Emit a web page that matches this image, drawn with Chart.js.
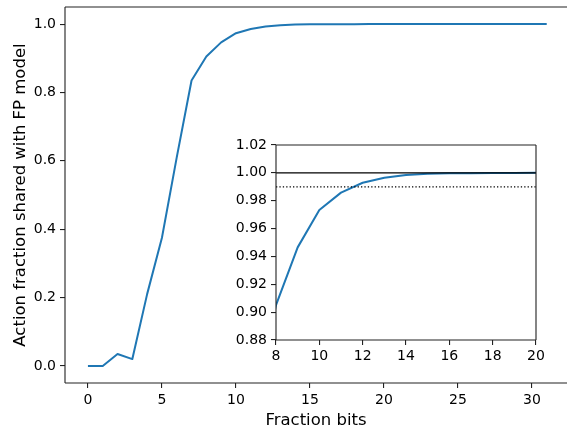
<!DOCTYPE html>
<html><head><meta charset="utf-8">
<script src="https://cdn.jsdelivr.net/npm/chart.js@4.4.0/dist/chart.umd.min.js"></script>
<style>
html,body{margin:0;padding:0;background:#fff;overflow:hidden;}
#wrap{position:relative;width:567px;height:429px;background:#fff;}
#main{position:absolute;left:0;top:0;}
#inset{position:absolute;left:230px;top:130px;}
</style></head><body>
<div id="wrap"><canvas id="main" width="567" height="429"></canvas><canvas id="inset" width="320" height="235"></canvas></div>
<script>
// ---- data ----
const fractionBits = [0,1,2,3,4,5,6,7,8,9,10,11,12,13,14,15,16,17,18,19,20,21,22,23,24,25,26,27,28,29,30,31];
const actionFraction = [0.0,0.0,0.035,0.02,0.21,0.375,0.61,0.835,0.905,0.9465,0.9733,0.9858,0.9929,0.9965,0.9985,0.9993,0.9997,0.9998,0.9999,0.99995,1.0,1.0,1.0,1.0,1.0,1.0,1.0,1.0,1.0,1.0,1.0,1.0];
const mainXTicks = [0,5,10,15,20,25,30];
const mainYTicks = [0.0,0.2,0.4,0.6,0.8,1.0];
const mainYTickLabels = ['0.0','0.2','0.4','0.6','0.8','1.0'];
const insetXTicks = [8,10,12,14,16,18,20];
const insetYTicks = [0.88,0.90,0.92,0.94,0.96,0.98,1.00,1.02];
const insetYTickLabels = ['0.88','0.90','0.92','0.94','0.96','0.98','1.00','1.02'];
const referenceLevels = [1.00, 0.99];
const xTitle = 'Fraction bits';
const yTitle = 'Action fraction shared with FP model';

// ---- styling ----
const BLUE = '#1f77b4';
Chart.defaults.font.family = "'DejaVu Sans', sans-serif";
Chart.defaults.color = '#000';

const framePlugin = {
  id: 'frame',
  afterDraw(chart, args, opts) {
    const {left, top, right, bottom} = chart.chartArea;
    const ctx = chart.ctx;
    ctx.save();
    ctx.strokeStyle = '#222';
    ctx.lineWidth = 1.1;
    ctx.beginPath();
    const s = opts.sides || 'ltrb';
    if (s.includes('t')) { ctx.moveTo(left, top); ctx.lineTo(right, top); }
    if (s.includes('b')) { ctx.moveTo(left, bottom); ctx.lineTo(right, bottom); }
    if (s.includes('l')) { ctx.moveTo(left, top); ctx.lineTo(left, bottom); }
    if (s.includes('r')) { ctx.moveTo(right, top); ctx.lineTo(right, bottom); }
    ctx.stroke();
    ctx.restore();
  }
};

function points(xs, ys) { return xs.map((x, i) => ({x: x, y: ys[i]})); }
function setTicks(vals) { return scale => { scale.ticks = vals.map(v => ({value: v})); }; }
function fixWidth(w) { return scale => { scale.width = w; scale.paddingTop = 0; scale.paddingBottom = 0; }; }
function fixHeight(h) { return scale => { scale.height = h; scale.paddingLeft = 0; scale.paddingRight = 0; }; }

const tickGrid = {display: true, drawOnChartArea: false, drawTicks: true, tickLength: 5, color: '#222', lineWidth: 1.1};

new Chart(document.getElementById('main'), {
  type: 'line',
  data: {datasets: [{
    data: points(fractionBits, actionFraction),
    borderColor: BLUE, borderWidth: 2, pointRadius: 0, tension: 0, fill: false,
    borderJoinStyle: 'round'
  }]},
  options: {
    responsive: false, animation: false, devicePixelRatio: 1,
    layout: {padding: {top: 7, right: 0, left: 0, bottom: 0}},
    plugins: {legend: {display: false}, tooltip: {enabled: false}, frame: {sides: 'ltb'}},
    scales: {
      x: {
        type: 'linear', min: -1.55, max: 32.37,
        afterBuildTicks: setTicks(mainXTicks),
        afterFit: fixHeight(46),
        grid: tickGrid, border: {display: false},
        ticks: {font: {size: 14}, padding: 4, maxRotation: 0, autoSkip: false},
        title: {display: true, text: xTitle, font: {size: 16.5, lineHeight: 1}, padding: {top: 0, bottom: 0}}
      },
      y: {
        type: 'linear', min: -0.05, max: 1.05,
        afterBuildTicks: setTicks(mainYTicks),
        afterFit: fixWidth(65),
        grid: tickGrid, border: {display: false},
        ticks: {font: {size: 14}, padding: 4, autoSkip: false, callback: (v, i) => mainYTickLabels[i]},
        title: {display: true, text: yTitle, font: {size: 16.5, lineHeight: 1}, padding: {top: 12, bottom: 0}}
      }
    }
  },
  plugins: [framePlugin]
});

new Chart(document.getElementById('inset'), {
  type: 'line',
  data: {datasets: [
    {data: points([8, 20], [referenceLevels[0], referenceLevels[0]]), borderColor: '#000', borderWidth: 1.3, pointRadius: 0, tension: 0, order: 0},
    {data: points([8, 20], [referenceLevels[1], referenceLevels[1]]), borderColor: '#000', borderWidth: 1.2, borderDash: [1.3, 2.1], pointRadius: 0, tension: 0, order: 1},
    {data: points(fractionBits, actionFraction), borderColor: BLUE, borderWidth: 2, pointRadius: 0, tension: 0, borderJoinStyle: 'round', order: 2}
  ]},
  options: {
    responsive: false, animation: false, devicePixelRatio: 1,
    layout: {padding: {top: 15, right: 14, left: 0, bottom: 0}},
    plugins: {legend: {display: false}, tooltip: {enabled: false}, frame: {sides: 'ltrb'}},
    scales: {
      x: {
        type: 'linear', min: 8, max: 20,
        afterBuildTicks: setTicks(insetXTicks),
        afterFit: fixHeight(25),
        grid: tickGrid, border: {display: false},
        ticks: {font: {size: 14}, padding: 3, maxRotation: 0, autoSkip: false}
      },
      y: {
        type: 'linear', min: 0.88, max: 1.02,
        afterBuildTicks: setTicks(insetYTicks),
        afterFit: fixWidth(46),
        grid: tickGrid, border: {display: false},
        ticks: {font: {size: 14}, padding: 4, autoSkip: false, callback: (v, i) => insetYTickLabels[i]}
      }
    }
  },
  plugins: [framePlugin]
});
</script>
</body></html>
